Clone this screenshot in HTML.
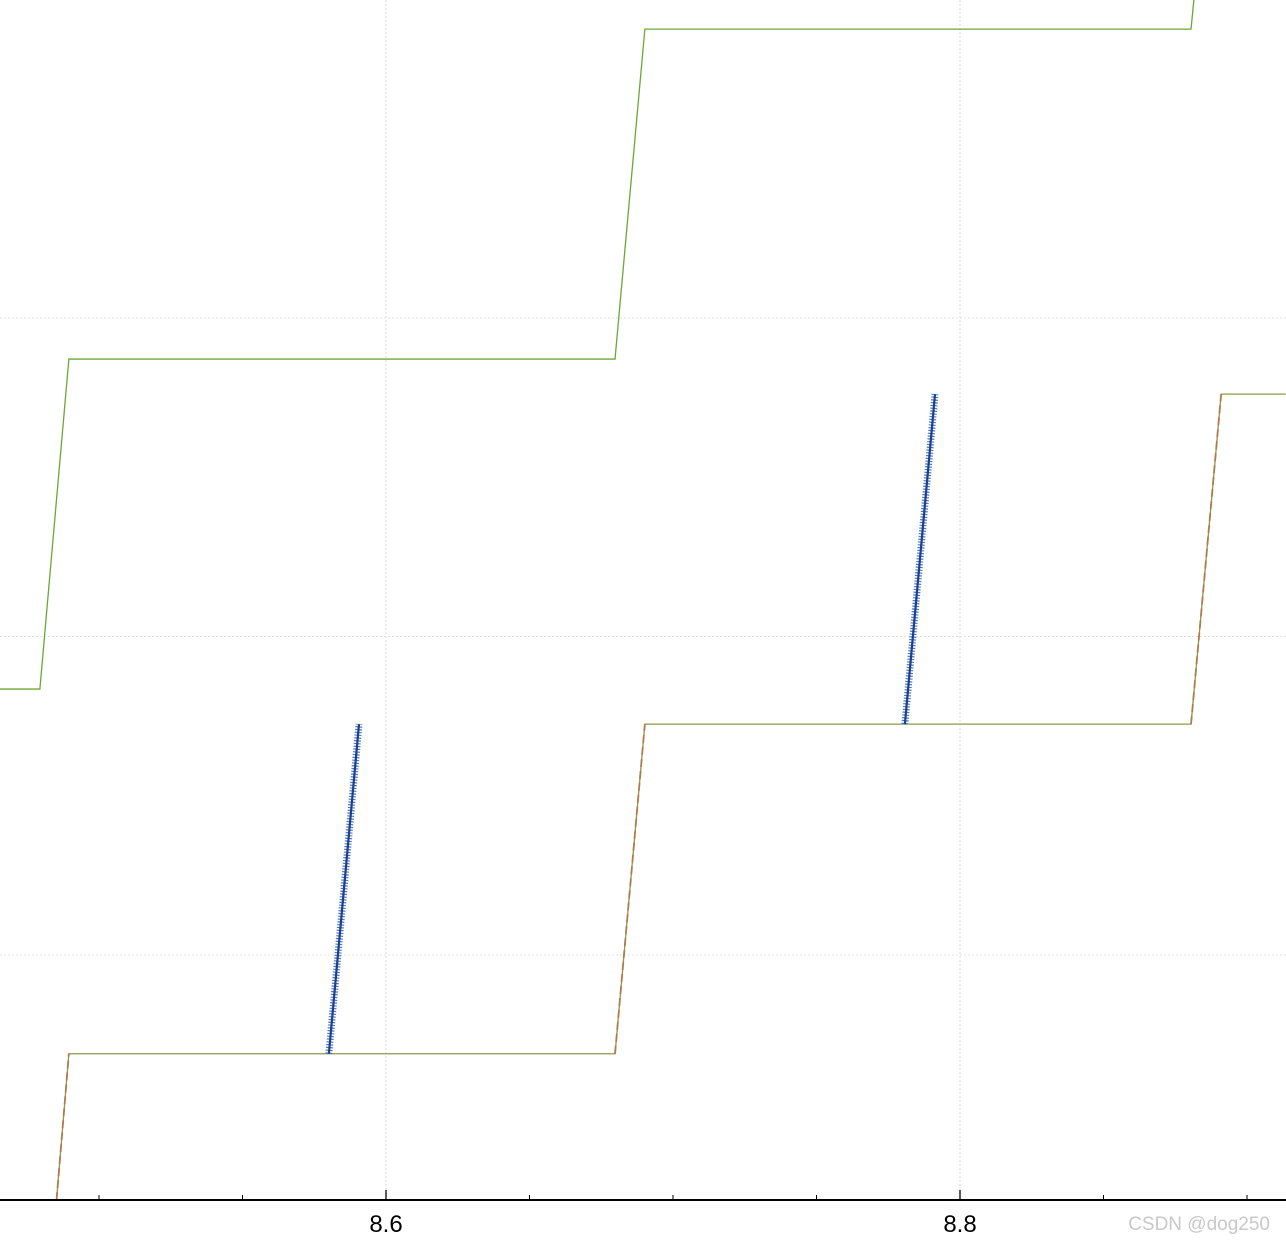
<!DOCTYPE html>
<html><head><meta charset="utf-8"><style>
html,body{margin:0;padding:0;background:#fff;}
svg{display:block;font-family:"Liberation Sans",sans-serif;}
</style></head><body>
<svg id="chart" width="1286" height="1244" viewBox="0 0 1286 1244" xmlns="http://www.w3.org/2000/svg">
<g id="grid"></g>
<g id="series"></g>
<g id="axis"></g>
<text x="1270" y="1230" text-anchor="end" font-size="19" fill="#c8c8c8">CSDN @dog250</text>
</svg>
<script>
const majorTicks = [8.6, 8.8];
const tickLabels = ["8.6", "8.8"];
const minorTicks = [8.45, 8.5, 8.55, 8.65, 8.7, 8.75, 8.85, 8.9];
const yGrid = [1, 2, 3];
const upperX = [8.4655, 8.4794, 8.4895, 8.6798, 8.6902, 8.8805, 8.8815];
const upperY = [1.835, 1.835, 2.871, 2.871, 3.907, 3.907, 4.0];
const lowerX = [8.4852, 8.4895, 8.6798, 8.6902, 8.8805, 8.891, 8.9135];
const lowerY = [0.231, 0.69, 0.69, 1.725, 1.725, 2.761, 2.761];
const rampX = [[8.4852, 8.4895], [8.6798, 8.6902], [8.8805, 8.891]];
const rampY = [[0.231, 0.69], [0.69, 1.725], [1.725, 2.761]];
const blueX = [[8.5801, 8.5906], [8.7808, 8.7913]];
const blueY = [[0.69, 1.725], [1.725, 2.761]];

const X = v => 386 + (v - 8.6) * 2870;
const Y = v => 1273.5 - 318.5 * v;
const NS = "http://www.w3.org/2000/svg";
function mk(tag, attrs, parent){const e=document.createElementNS(NS,tag);for(const k in attrs)e.setAttribute(k,attrs[k]);parent.appendChild(e);return e;}
const grid=document.getElementById('grid'), series=document.getElementById('series'), axis=document.getElementById('axis');
majorTicks.forEach(t=>{
  const l=mk('line',{x1:X(t),x2:X(t),y1:0,y2:1200,stroke:'#d8d8d8','stroke-width':1,'stroke-dasharray':'2,2'},grid);
  
  
});
yGrid.forEach(v=>{
  const l=mk('line',{x1:0,x2:1286,y1:Y(v),y2:Y(v),stroke:'#e0e0e0','stroke-width':1,'stroke-dasharray':'2,2'},grid);
  
  
});
function pts(xs,ys){return xs.map((x,i)=>X(x)+','+Y(ys[i])).join(' ');}
const up=mk('polyline',{points:pts(upperX,upperY),fill:'none',stroke:'#6aa832','stroke-width':1.3},series);


const lo=mk('polyline',{points:pts(lowerX,lowerY),fill:'none',stroke:'#8a9a4a','stroke-width':1.3},series);


rampX.forEach((r,i)=>{
  const l=mk('line',{x1:X(r[0]),y1:Y(rampY[i][0]),x2:X(r[1]),y2:Y(rampY[i][1]),stroke:'#b07a4a','stroke-width':1.8,'stroke-dasharray':'8,4'},series);
  
  
});
blueX.forEach((r,i)=>{
  const a={x1:X(r[0]),y1:Y(blueY[i][0]),x2:X(r[1]),y2:Y(blueY[i][1])};
  const t=mk('line',Object.assign({stroke:'#4a78c0','stroke-width':7,'stroke-dasharray':'1.2,1.6'},a),series);
  
  
  const c=mk('line',Object.assign({stroke:'#1f3f8a','stroke-width':2.2},a),series);
  
  
});
const ax=mk('line',{x1:0,x2:1286,y1:1200,y2:1200,stroke:'#000','stroke-width':2},axis);


majorTicks.forEach((t,i)=>{
  const l=mk('line',{x1:X(t),x2:X(t),y1:1200,y2:1190,stroke:'#000','stroke-width':1.3},axis);
  
  
  const tx=mk('text',{x:X(t),y:1232,'text-anchor':'middle','font-size':24,fill:'#000'},axis);
  tx.textContent=tickLabels[i];
  
  
});
minorTicks.forEach(t=>{
  const l=mk('line',{x1:X(t),x2:X(t),y1:1200,y2:1195,stroke:'#000','stroke-width':1},axis);
  
  
});
</script>
</body></html>
